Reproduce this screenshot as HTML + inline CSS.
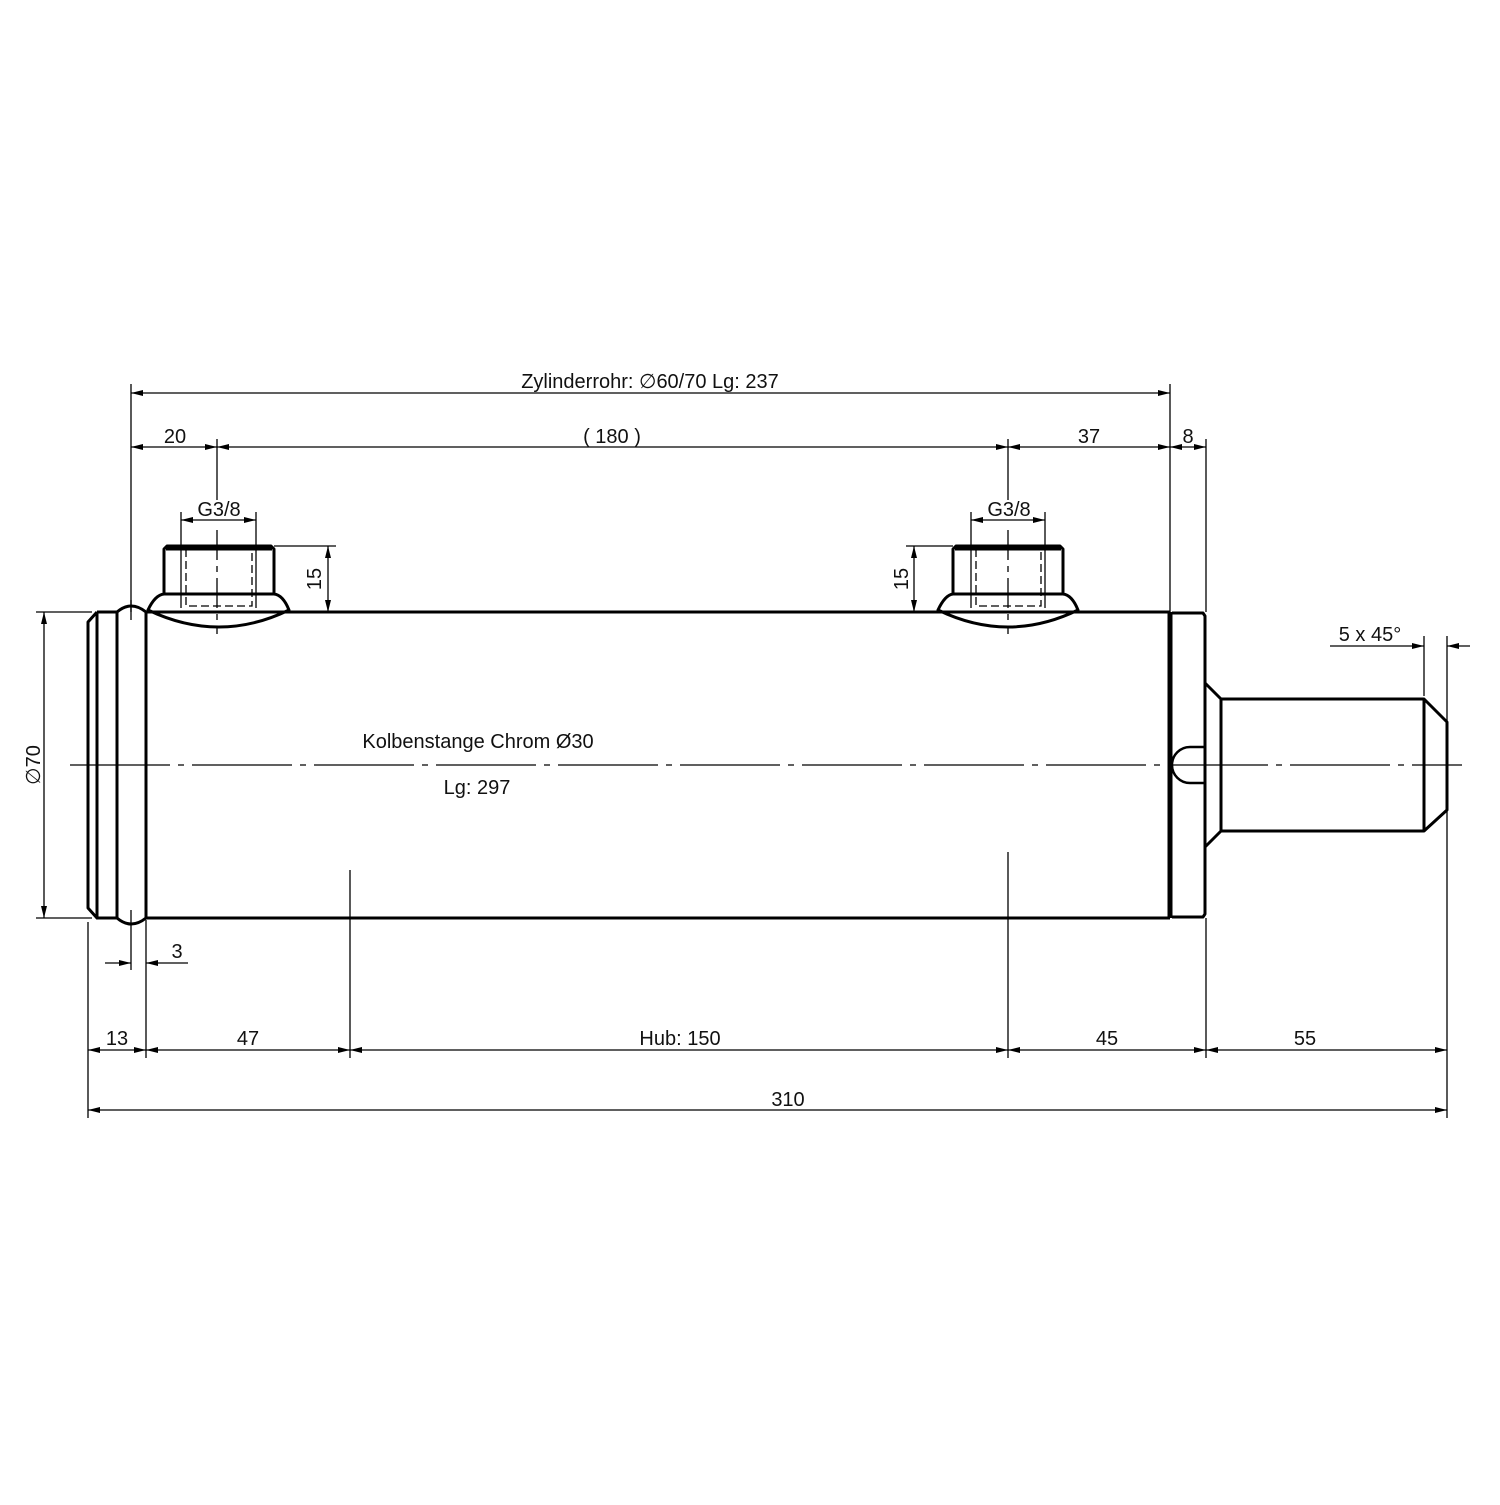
<!DOCTYPE html>
<html><head><meta charset="utf-8"><style>
html,body{margin:0;padding:0;background:#fff;}
text{font-family:"Liberation Sans",sans-serif;font-size:20px;fill:#111;}
</style></head><body>
<svg width="1500" height="1500" viewBox="0 0 1500 1500" xmlns="http://www.w3.org/2000/svg">
<defs>
<marker id="a" viewBox="0 0 12 6" refX="12" refY="3" markerWidth="12" markerHeight="6" markerUnits="userSpaceOnUse" orient="auto-start-reverse">
<path d="M0,0 L12,3 L0,6 z" fill="#000"/></marker>
</defs>
<rect width="1500" height="1500" fill="#fff"/>
<g stroke="#000" stroke-width="1.3" fill="none">
<!-- extension lines -->
<line x1="131" y1="384" x2="131" y2="612"/>
<line x1="1170" y1="384" x2="1170" y2="612"/>
<line x1="1206" y1="439" x2="1206" y2="612"/>
<line x1="217" y1="439" x2="217" y2="500"/>
<line x1="1008" y1="439" x2="1008" y2="500"/>
<line x1="217" y1="530" x2="217" y2="634" stroke-dasharray="30,6,6,6"/>
<line x1="1008" y1="530" x2="1008" y2="634" stroke-dasharray="30,6,6,6"/>
<line x1="181" y1="512" x2="181" y2="608"/>
<line x1="256" y1="512" x2="256" y2="608"/>
<line x1="971" y1="512" x2="971" y2="608"/>
<line x1="1045" y1="512" x2="1045" y2="608"/>
<line x1="274" y1="546" x2="336" y2="546"/>
<line x1="906" y1="546" x2="953" y2="546"/>
<line x1="88" y1="922" x2="88" y2="1118"/>
<line x1="131" y1="930" x2="131" y2="970"/>
<line x1="146" y1="920" x2="146" y2="1058"/>
<line x1="350" y1="870" x2="350" y2="1058"/>
<line x1="1008" y1="852" x2="1008" y2="1058"/>
<line x1="1206" y1="918" x2="1206" y2="1058"/>
<line x1="1447" y1="636" x2="1447" y2="1118"/>
<line x1="1424" y1="636" x2="1424" y2="696"/>
<line x1="36" y1="612" x2="92" y2="612"/>
<line x1="36" y1="918" x2="92" y2="918"/>
<!-- dimension lines -->
<line x1="131" y1="393" x2="1170" y2="393" marker-start="url(#a)" marker-end="url(#a)"/>
<line x1="131" y1="447" x2="217" y2="447" marker-start="url(#a)" marker-end="url(#a)"/>
<line x1="217" y1="447" x2="1008" y2="447" marker-start="url(#a)" marker-end="url(#a)"/>
<line x1="1008" y1="447" x2="1170" y2="447" marker-start="url(#a)" marker-end="url(#a)"/>
<line x1="1170" y1="447" x2="1206" y2="447" marker-start="url(#a)" marker-end="url(#a)"/>
<line x1="181" y1="520" x2="256" y2="520" marker-start="url(#a)" marker-end="url(#a)"/>
<line x1="971" y1="520" x2="1045" y2="520" marker-start="url(#a)" marker-end="url(#a)"/>
<line x1="328" y1="546" x2="328" y2="612" marker-start="url(#a)" marker-end="url(#a)"/>
<line x1="914" y1="546" x2="914" y2="612" marker-start="url(#a)" marker-end="url(#a)"/>
<line x1="44" y1="612" x2="44" y2="918" marker-start="url(#a)" marker-end="url(#a)"/>
<line x1="105" y1="963" x2="131" y2="963" marker-end="url(#a)"/>
<line x1="188" y1="963" x2="146" y2="963" marker-end="url(#a)"/>
<line x1="88" y1="1050" x2="146" y2="1050" marker-start="url(#a)" marker-end="url(#a)"/>
<line x1="146" y1="1050" x2="350" y2="1050" marker-start="url(#a)" marker-end="url(#a)"/>
<line x1="350" y1="1050" x2="1008" y2="1050" marker-start="url(#a)" marker-end="url(#a)"/>
<line x1="1008" y1="1050" x2="1206" y2="1050" marker-start="url(#a)" marker-end="url(#a)"/>
<line x1="1206" y1="1050" x2="1447" y2="1050" marker-start="url(#a)" marker-end="url(#a)"/>
<line x1="88" y1="1110" x2="1447" y2="1110" marker-start="url(#a)" marker-end="url(#a)"/>
<line x1="1330" y1="646" x2="1424" y2="646" marker-end="url(#a)"/>
<line x1="1470" y1="646" x2="1447" y2="646" marker-end="url(#a)"/>
<!-- centre line -->
<line x1="70" y1="765" x2="1462" y2="765" stroke-dasharray="100,8,6,8"/>
<line x1="131" y1="600" x2="131" y2="620" />
<line x1="131" y1="910" x2="131" y2="930" />
</g>
<g stroke="#000" stroke-width="3" fill="none" stroke-linejoin="round">
<!-- left cap -->
<path d="M97,612 L117,612 M97,918 L117,918"/>
<path d="M97,612 L88,622 L88,908 L97,918 L97,612"/>
<path d="M117,612 Q131,600 146,612 L146,918 Q131,930 117,918 Z"/>
<!-- tube -->
<path d="M146,612 L1170,612 M146,918 L1170,918"/>
<line x1="1170" y1="612" x2="1170" y2="918" stroke-width="5"/>
<!-- flange -->
<path d="M1172,613 L1203,613 L1205,616 L1205,914 L1203,917 L1172,917"/>
<path d="M1205,683 L1221,699 L1221,831 L1205,847"/>
<path d="M1221,699 L1424,699 L1447,722 L1447,810 L1424,831 L1221,831 M1424,699 L1424,831"/>
<path d="M1205,747 L1190,747 A18,18 0 0 0 1190,783 L1205,783" stroke-width="2.5"/>
<!-- ports -->
<path d="M148,610 Q155,595 164,594 L164,549 L167,546 L271,546 L274,549 L274,594 Q283,595 289,610 Q219,644 148,610 Z M164,594 L274,594 M166,549 L272,549"/>
<path d="M938,610 Q945,595 953,594 L953,549 L956,546 L1060,546 L1063,549 L1063,594 Q1072,595 1078,610 Q1008,644 938,610 Z M953,594 L1063,594 M955,549 L1061,549"/>
</g>
<g stroke="#000" stroke-width="1.3" fill="none" stroke-dasharray="8,4">
<path d="M186,549 L186,606 L252,606 L252,549"/>
<path d="M976,549 L976,606 L1041,606 L1041,549"/>
</g>
<text x="650" y="388" text-anchor="middle">Zylinderrohr: ∅60/70 Lg: 237</text>
<text x="175" y="443" text-anchor="middle">20</text>
<text x="612" y="443" text-anchor="middle">( 180 )</text>
<text x="1089" y="443" text-anchor="middle">37</text>
<text x="1188" y="443" text-anchor="middle">8</text>
<text x="219" y="516" text-anchor="middle">G3/8</text>
<text x="1009" y="516" text-anchor="middle">G3/8</text>
<text transform="translate(321,579) rotate(-90)" text-anchor="middle">15</text>
<text transform="translate(908,579) rotate(-90)" text-anchor="middle">15</text>
<text transform="translate(40,765) rotate(-90)" text-anchor="middle">∅70</text>
<text x="478" y="748" text-anchor="middle">Kolbenstange Chrom Ø30</text>
<text x="477" y="794" text-anchor="middle">Lg: 297</text>
<text x="1370" y="641" text-anchor="middle">5 x 45°</text>
<text x="177" y="958" text-anchor="middle">3</text>
<text x="117" y="1045" text-anchor="middle">13</text>
<text x="248" y="1045" text-anchor="middle">47</text>
<text x="680" y="1045" text-anchor="middle">Hub: 150</text>
<text x="1107" y="1045" text-anchor="middle">45</text>
<text x="1305" y="1045" text-anchor="middle">55</text>
<text x="788" y="1106" text-anchor="middle">310</text>
</svg>
</body></html>
